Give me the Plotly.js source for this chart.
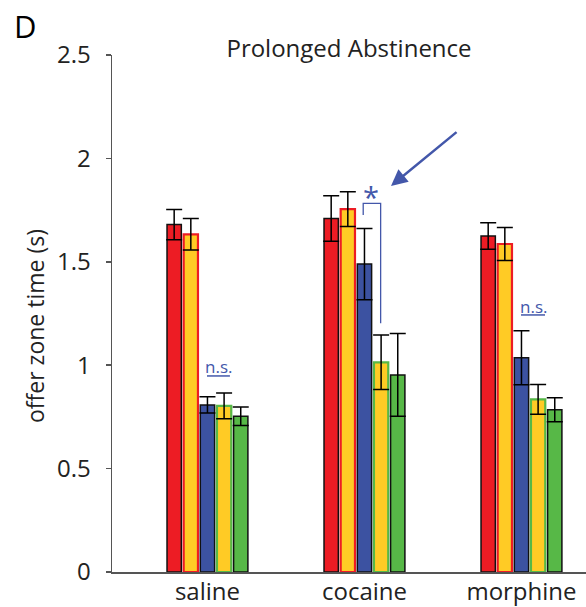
<!DOCTYPE html>
<html><head><meta charset="utf-8">
<script src="https://cdn.plot.ly/plotly-3.0.1.min.js"></script>
<style>html,body{margin:0;padding:0;background:#fff}#chart{width:586px;height:607px}</style>
</head><body><div id="chart"></div>
<script>
const groups = ['saline', 'cocaine', 'morphine'];
const redVals = [1.680, 1.709, 1.625];
const redErr = [0.073, 0.110, 0.064];
const yellowRVals = [1.633, 1.755, 1.586];
const yellowRErr = [0.076, 0.084, 0.080];
const blueVals = [0.808, 1.489, 1.036];
const blueErr = [0.039, 0.172, 0.131];
const yellowGVals = [0.803, 1.014, 0.835];
const yellowGErr = [0.062, 0.132, 0.072];
const greenVals = [0.753, 0.953, 0.785];
const greenErr = [0.045, 0.200, 0.058];

const RED = '#ED1C24', YEL = '#FFCB25', BLUE = '#3C52A1', GRN = '#57B847', ANN = '#4357AA';

function bar(vals, err, fill, line, lw) {
  return {
    type: 'bar', x: groups, y: vals,
    marker: {color: fill, line: {color: line, width: lw}},
    error_y: {type: 'data', array: err, visible: true, color: '#000', thickness: 1.5, width: 8},
    showlegend: false, hoverinfo: 'none'
  };
}
const traces = [
  bar(redVals, redErr, RED, '#111', 1.5),
  bar(yellowRVals, yellowRErr, YEL, RED, 2.2),
  bar(blueVals, blueErr, BLUE, '#111', 1.5),
  bar(yellowGVals, yellowGErr, YEL, GRN, 2.2),
  bar(greenVals, greenErr, GRN, '#111', 1.5)
];

const fontFam = '"Open Sans", "Noto Sans", sans-serif';
const layout = {
  width: 586, height: 607,
  margin: {l: 112, r: 0, t: 55, b: 35},
  paper_bgcolor: '#fff', plot_bgcolor: '#fff',
  barmode: 'group', bargap: 0.47, bargroupgap: 0.14,
  font: {family: fontFam, color: '#222'},
  title: {text: 'Prolonged Abstinence', font: {size: 24, color: '#222'}, x: 0.5, xref: 'paper', y: 1 - 49/607, yref: 'container', yanchor: 'middle'},
  xaxis: {
    range: [-0.608, 2.411], showline: true, linecolor: '#555', linewidth: 1.5,
    ticks: '', tickfont: {size: 24, color: '#222'}, ticklabelstandoff: -2,
    showgrid: false, zeroline: false, fixedrange: true
  },
  yaxis: {
    range: [0, 2.5], dtick: 0.5, tick0: 0, showline: true, linecolor: '#555', linewidth: 1.5,
    ticks: 'outside', ticklen: 5, tickwidth: 1.5, tickcolor: '#555', ticklabelstandoff: 10,
    tickfont: {size: 24, color: '#222'}, showgrid: false, zeroline: false
  },
  shapes: [
    {type: 'line', xref: 'x', yref: 'y', x0: -0.003, x1: 0.143, y0: 0.948, y1: 0.948, line: {color: ANN, width: 1.5}},
    {type: 'line', xref: 'x', yref: 'y', x0: 1.997, x1: 2.150, y0: 1.243, y1: 1.243, line: {color: ANN, width: 1.5}},
    {type: 'path', xref: 'x', yref: 'y', path: 'M 0.992 1.726 L 0.992 1.783 L 1.103 1.783 L 1.103 1.203', line: {color: ANN, width: 1.3}}
  ],
  annotations: [
    {text: 'D', xref: 'paper', yref: 'paper', x: -100/474, y: 1 + (55-3)/517, xanchor: 'left', yanchor: 'top', showarrow: false, font: {size: 31, color: '#000'}},
    {text: 'offer zone time (s)', xref: 'paper', yref: 'paper', x: -77/474, y: 1 - (326-55)/517, textangle: -90, xanchor: 'center', yanchor: 'middle', showarrow: false, font: {size: 23, color: '#222'}},
    {text: 'n.s.', xref: 'x', yref: 'y', x: 0.071, y: 0.993, showarrow: false, font: {size: 17, color: ANN}},
    {text: 'n.s.', xref: 'x', yref: 'y', x: 2.075, y: 1.286, showarrow: false, font: {size: 17, color: ANN}},
    {text: '*', xref: 'x', yref: 'y', x: 1.041, y: 1.783, yanchor: 'bottom', yshift: -15, showarrow: false, font: {size: 29, color: ANN}},
    {text: '', xref: 'x', yref: 'y', x: 1.169, y: 1.867, axref: 'x', ayref: 'y', ax: 1.596, ay: 2.133,
     showarrow: true, arrowhead: 2, arrowsize: 1.3, arrowwidth: 2.5, arrowcolor: ANN, standoff: 0}
  ]
};
Plotly.newPlot('chart', traces, layout, {staticPlot: true, displayModeBar: false});
</script></body></html>
